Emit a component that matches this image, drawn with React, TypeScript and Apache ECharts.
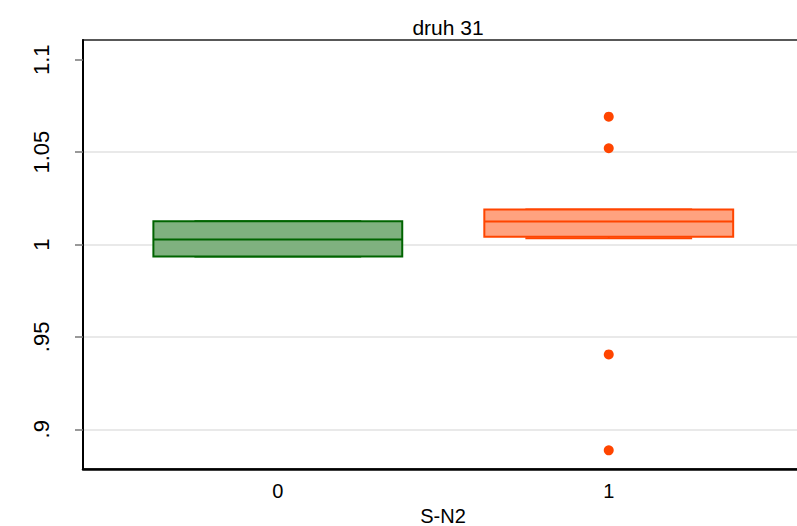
import React, { useEffect, useRef } from "react";
import * as echarts from "echarts";

const title = "druh 31";
const xName = "S-N2";
const groups = [0, 1];
const q1 = [0.9935, 1.0042];
const medians = [1.0027, 1.0124];
const q3 = [1.0126, 1.0189];
const lowerAdj = [0.9935, 1.0034];
const upperAdj = [1.0126, 1.0189];
const outlierGroup = [1, 1, 1, 1];
const outlierValues = [1.0692, 1.0521, 0.9405, 0.8886];
const yTicks = [0.9, 0.95, 1, 1.05, 1.1];
const gridValues = [0.9, 0.95, 1, 1.05];
const xTicks = [0, 1];

const strokeColors = ["#006400", "#ff4500"];
const fillColors = ["#7fb17f", "#ffa27f"];
const FONT = "Liberation Sans, Arial, sans-serif";

export default function App() {
  const ref = useRef<HTMLDivElement>(null);
  useEffect(() => {
    if (!ref.current) return;
    const chart = echarts.init(ref.current, undefined, { renderer: "svg" });
    const boxData = groups.map((g, i) => [g, q1[i], medians[i], q3[i], lowerAdj[i], upperAdj[i], i]);
    const halfBox = 0.376;
    const halfCap = 0.252;
    const fmt = (v: number) => {
      const s = String(+(+v).toFixed(3));
      return s.startsWith("0.") ? s.slice(1) : s;
    };
    chart.setOption({
      animation: false,
      backgroundColor: "#fff",
      title: {
        text: title,
        left: 443,
        top: 12,
        textAlign: "center",
        textStyle: { fontSize: 21, fontWeight: "normal", color: "#000", fontFamily: FONT },
      },
      grid: {
        left: 83,
        top: 40,
        right: -6,
        bottom: 57,
        outerBoundsMode: "none",
        containLabel: false,
        show: true,
        borderColor: "#222",
        borderWidth: 1.5,
        backgroundColor: "transparent",
      },
      xAxis: {
        type: "value",
        min: -0.5887,
        max: 1.587,
        name: xName,
        nameLocation: "middle",
        nameGap: 28,
        nameTextStyle: { fontSize: 20, lineHeight: 20, color: "#000", fontFamily: FONT },
        axisLine: { show: true, onZero: false, lineStyle: { color: "#000", width: 2.5 } },
        axisTick: { show: false },
        splitLine: { show: false },
        axisLabel: {
          customValues: xTicks,
          formatter: (v: number) => String(v),
          fontSize: 20,
          color: "#000",
          fontFamily: FONT,
          margin: 12,
        },
      },
      yAxis: {
        type: "value",
        min: 0.8785,
        max: 1.1107,
        axisLine: { show: true, onZero: false, lineStyle: { color: "#000", width: 2 } },
        axisTick: {
          show: true,
          customValues: yTicks,
          length: 8,
          lineStyle: { color: "#777", width: 1.5 },
        },
        splitLine: { show: false },
        axisLabel: {
          customValues: yTicks,
          formatter: fmt,
          rotate: 90,
          fontSize: 22,
          color: "#000",
          fontFamily: FONT,
          margin: 31,
        },
      },
      series: [
        {
          type: "line",
          data: [],
          silent: true,
          z: 0,
          markLine: {
            silent: true,
            z: 0,
            symbol: "none",
            label: { show: false },
            lineStyle: { color: "#e2e2e2", width: 1.5, type: "solid" },
            data: gridValues.map((v) => ({ yAxis: v })),
          },
        },
        {
          type: "custom",
          data: boxData,
          z: 3,
          renderItem: (params: any, api: any) => {
            const x = api.value(0);
            const vq1 = api.value(1);
            const vmed = api.value(2);
            const vq3 = api.value(3);
            const vlo = api.value(4);
            const vhi = api.value(5);
            const idx = api.value(6);
            const stroke = strokeColors[idx];
            const fill = fillColors[idx];
            const tl = api.coord([x - halfBox, vq3]);
            const br = api.coord([x + halfBox, vq1]);
            const medL = api.coord([x - halfBox, vmed]);
            const medR = api.coord([x + halfBox, vmed]);
            const c = api.coord([x, vq1]);
            const lo = api.coord([x, vlo]);
            const hiTop = api.coord([x, vq3]);
            const hi = api.coord([x, vhi]);
            const capLoL = api.coord([x - halfCap, vlo]);
            const capLoR = api.coord([x + halfCap, vlo]);
            const capHiL = api.coord([x - halfCap, vhi]);
            const capHiR = api.coord([x + halfCap, vhi]);
            const ls = { stroke, lineWidth: 2 };
            return {
              type: "group",
              children: [
                { type: "line", shape: { x1: c[0], y1: c[1], x2: lo[0], y2: lo[1] }, style: ls },
                { type: "line", shape: { x1: hiTop[0], y1: hiTop[1], x2: hi[0], y2: hi[1] }, style: ls },
                { type: "line", shape: { x1: capLoL[0], y1: capLoL[1], x2: capLoR[0], y2: capLoR[1] }, style: ls },
                { type: "line", shape: { x1: capHiL[0], y1: capHiL[1], x2: capHiR[0], y2: capHiR[1] }, style: ls },
                {
                  type: "rect",
                  shape: { x: tl[0], y: tl[1], width: br[0] - tl[0], height: br[1] - tl[1] },
                  style: { fill, stroke, lineWidth: 2 },
                },
                { type: "line", shape: { x1: medL[0], y1: medL[1], x2: medR[0], y2: medR[1] }, style: ls },
              ],
            };
          },
        },
        {
          type: "scatter",
          data: outlierGroup.map((g, i) => [g, outlierValues[i]]),
          symbol: "circle",
          symbolSize: 10,
          itemStyle: { color: "#ff4500", opacity: 1 },
          z: 4,
        },
      ],
    });
    return () => chart.dispose();
  }, []);
  return (
    <div
      ref={ref}
      style={{ position: "fixed", left: 0, top: 0, width: 797, height: 526 }}
    />
  );
}
